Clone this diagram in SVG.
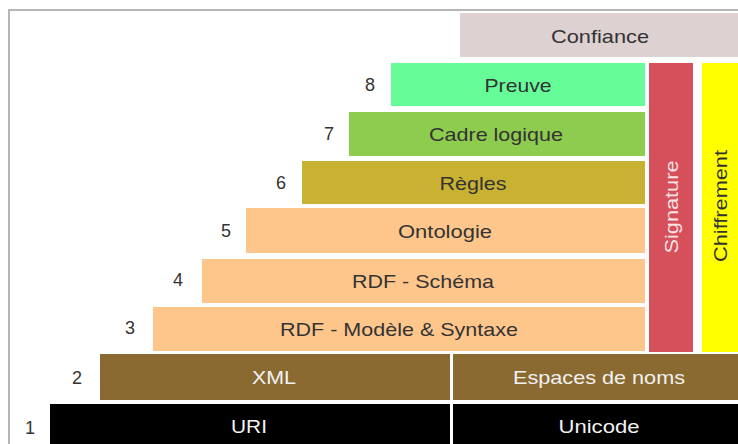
<svg xmlns="http://www.w3.org/2000/svg" width="738" height="444" viewBox="0 0 738 444">
<style>
text{font-family:"Liberation Sans",Arial,sans-serif;font-size:19px;text-anchor:middle;dominant-baseline:central}
.d{fill:#333}
.l{fill:#f2f2f2}
.n{fill:#333;font-size:18px}
</style>
<rect x="0" y="0" width="738" height="444" fill="#fff"/>
<g id="frame" stroke="#b5b5b5" stroke-width="2" fill="none">
<line x1="8" y1="10" x2="738" y2="10"/>
<line x1="9" y1="10" x2="9" y2="444"/>
</g>
<g id="connectors"></g>
<g id="confiance"><rect x="460" y="13" width="278" height="44" fill="#ddd1d1"/><text class="d" x="600" y="36" textLength="98" lengthAdjust="spacingAndGlyphs">Confiance</text></g>
<g id="preuve"><rect x="391" y="63" width="254" height="43" fill="#66fd99"/><text class="d" x="518" y="85" textLength="67" lengthAdjust="spacingAndGlyphs">Preuve</text><text class="n" x="370" y="85">8</text></g>
<g id="cadre"><rect x="349" y="112" width="296" height="44" fill="#8dcc4e"/><text class="d" x="496" y="134" textLength="134" lengthAdjust="spacingAndGlyphs">Cadre logique</text><text class="n" x="329" y="134">7</text></g>
<g id="regles"><rect x="302" y="161" width="343" height="43" fill="#c9b231"/><text class="d" x="473" y="183" textLength="67" lengthAdjust="spacingAndGlyphs">Règles</text><text class="n" x="281" y="183">6</text></g>
<g id="ontologie"><rect x="246" y="208" width="399" height="45" fill="#ffc68c"/><text class="d" x="445" y="231" textLength="94" lengthAdjust="spacingAndGlyphs">Ontologie</text><text class="n" x="226" y="231">5</text></g>
<g id="rdfs"><rect x="202" y="259" width="443" height="44" fill="#ffc68c"/><text class="d" x="423" y="281" textLength="142" lengthAdjust="spacingAndGlyphs">RDF - Schéma</text><text class="n" x="178" y="280">4</text></g>
<g id="rdf"><rect x="153" y="307" width="492" height="44" fill="#ffc68c"/><text class="d" x="399" y="329" textLength="238" lengthAdjust="spacingAndGlyphs">RDF - Modèle &amp; Syntaxe</text><text class="n" x="130" y="328">3</text></g>
<g id="xml"><rect x="100" y="354" width="350" height="46" fill="#8a6a30"/><text class="l" x="274" y="377" textLength="44" lengthAdjust="spacingAndGlyphs">XML</text><text class="n" x="77" y="378">2</text></g>
<g id="espaces"><rect x="453" y="354" width="285" height="46" fill="#8a6a30"/><text class="l" x="599" y="377" textLength="172" lengthAdjust="spacingAndGlyphs">Espaces de noms</text></g>
<g id="uri"><rect x="50" y="404" width="400" height="40" fill="#000"/><text class="l" x="249" y="426" textLength="36" lengthAdjust="spacingAndGlyphs">URI</text><text class="n" x="30" y="428">1</text></g>
<g id="unicode"><rect x="453" y="404" width="285" height="40" fill="#000"/><text class="l" x="599" y="426" textLength="81" lengthAdjust="spacingAndGlyphs">Unicode</text></g>
<g id="signature"><rect x="649" y="63" width="44" height="289" fill="#d6505c"/><text x="0" y="0" fill="#f6e4e4" transform="translate(671,207) rotate(-90)" textLength="93" lengthAdjust="spacingAndGlyphs">Signature</text></g>
<g id="chiffrement"><rect x="702" y="63" width="36" height="289" fill="#ffff00"/><text class="d" x="0" y="0" fill="#222" transform="translate(720,206) rotate(-90)" textLength="112" lengthAdjust="spacingAndGlyphs">Chiffrement</text></g>
</svg>
